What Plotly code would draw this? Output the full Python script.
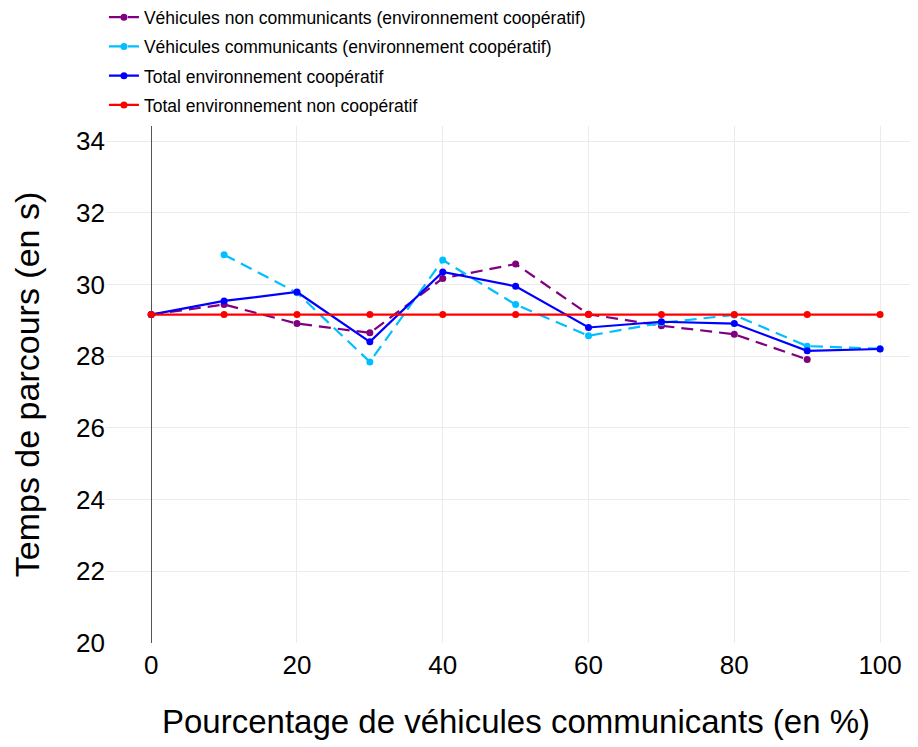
import plotly.graph_objects as go

# percentage of communicating vehicles
pct = [0, 10, 20, 30, 40, 50, 60, 70, 80, 90, 100]

# travel times (s)
non_comm = [29.16, 29.44, 28.91, 28.65, 30.17, 30.57, 29.17, 28.85, 28.61, 27.91, None]
comm = [None, 30.83, 29.77, 27.84, 30.68, 29.44, 28.57, 28.93, 29.15, 28.28, 28.21]
total_coop = [29.16, 29.54, 29.79, 28.40, 30.35, 29.95, 28.80, 28.96, 28.91, 28.15, 28.20]
total_non_coop = [29.16] * 11

series = [
    ('Véhicules non communicants (environnement coopératif)', non_comm, 'purple', '12px,7px'),
    ('Véhicules communicants (environnement coopératif)', comm, '#00BFFF', '12px,7px'),
    ('Total environnement coopératif', total_coop, '#0000FF', 'solid'),
    ('Total environnement non coopératif', total_non_coop, '#FF0000', 'solid'),
]

font_family = 'Liberation Sans, Arial, sans-serif'

fig = go.Figure()

for i, (name, vals, color, dash) in enumerate(series):
    fig.add_trace(
        go.Scatter(
            x=pct,
            y=vals,
            name=name,
            legendgroup=str(i),
            mode='lines+markers',
            line=dict(color=color, width=2.2, dash=dash),
            marker=dict(color=color, size=7),
            connectgaps=False,
        )
    )

# UPDATING AXES
fig.update_xaxes(
    range=[-6.2, 106.3],
    tickvals=[0, 20, 40, 60, 80, 100],
    showgrid=True,
    gridcolor='#EBEBEB',
    gridwidth=1,
    zeroline=True,
    zerolinecolor='#555555',
    zerolinewidth=1,
    showline=False,
    ticks='',
    ticklabelstandoff=4,
    tickfont=dict(size=26, color='black'),
    title=dict(text='Pourcentage de véhicules communicants (en %)',
               font=dict(size=33, color='black'), standoff=30),
)

fig.update_yaxes(
    range=[20, 34.42],
    tickvals=[20, 22, 24, 26, 28, 30, 32, 34],
    showgrid=True,
    gridcolor='#EBEBEB',
    gridwidth=1,
    zeroline=False,
    showline=False,
    ticks='',
    tickfont=dict(size=26, color='black'),
    title=dict(text='Temps de parcours (en s)',
               font=dict(size=34, color='black'), standoff=26),
)

# UPDATING LAYOUT
# (page body adds an 8px offset, so margins are shifted by 8px)
fig.update_layout(
    width=918,
    height=747,
    paper_bgcolor='white',
    plot_bgcolor='white',
    font_family=font_family,
    margin=dict(l=98, r=0, t=118, b=112, autoexpand=False),
    showlegend=True,
    legend=dict(
        x=-0.0025, y=1.245,
        xanchor='left', yanchor='top',
        orientation='v',
        traceorder='grouped',
        tracegroupgap=3.5,
        font=dict(size=17.5, color='black'),
        bgcolor='rgba(0,0,0,0)',
        itemwidth=30,
    ),
)

fig.write_html('out.html')
